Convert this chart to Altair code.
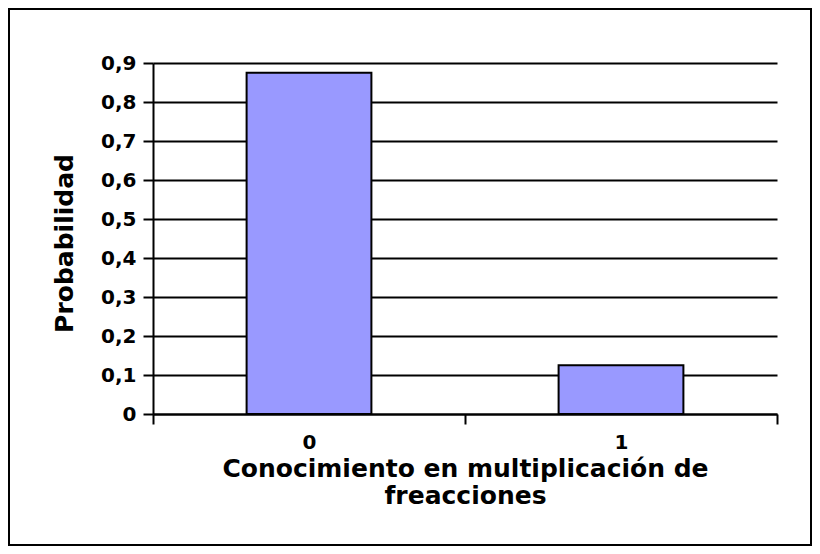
import altair as alt
import pandas as pd

categories = ["0", "1"]
probabilities = [0.875, 0.125]
y_ticks = [0, 0.1, 0.2, 0.3, 0.4, 0.5, 0.6, 0.7, 0.8, 0.9]
x_title = ["Conocimiento en multiplicación de", "freacciones"]
y_title = "Probabilidad"

df = pd.DataFrame({"cat": categories, "p": probabilities})

FONT = "DejaVu Sans"

bars = alt.Chart(df).mark_bar(
    width={"band": 0.4}, color="#9999FF", stroke="black", strokeWidth=2
).encode(
    x=alt.X(
        "cat:N",
        sort=categories,
        scale=alt.Scale(paddingInner=0, paddingOuter=0),
        axis=alt.Axis(
            labelAngle=0,
            tickBand="extent",
            tickSize=10,
            tickWidth=2,
            tickColor="black",
            domainColor="black",
            domainWidth=2,
            labelFont=FONT,
            labelFontSize=20,
            labelFontWeight="bold",
            labelColor="black",
            labelPadding=8,
            grid=False,
            title=x_title,
            titleFont=FONT,
            titleFontSize=25,
            titleFontWeight="bold",
            titleColor="black",
            titleX=312,
            titleY=62,
            titleAlign="center",
            titleBaseline="alphabetic",
            titleLineHeight=27,
        ),
    ),
    y=alt.Y(
        "p:Q",
        scale=alt.Scale(domain=[0, 0.9], nice=False),
        axis=alt.Axis(
            values=y_ticks,
            labelExpr="replace(format(datum.value, '.1~f'), '.', ',')",
            grid=True,
            gridColor="black",
            gridWidth=2,
            gridOpacity=1,
            tickSize=10,
            tickWidth=2,
            tickColor="black",
            domainColor="black",
            domainWidth=2,
            labelFont=FONT,
            labelFontSize=20,
            labelFontWeight="bold",
            labelColor="black",
            labelPadding=7,
            title=y_title,
            titleFont=FONT,
            titleFontSize=25,
            titleFontWeight="bold",
            titleColor="black",
            titleAngle=270,
            titleX=-89,
            titleY=180,
            titleAlign="center",
            titleBaseline="middle",
        ),
    ),
)

frame = alt.Chart(alt.Data(values=[{}])).mark_rect(
    fill=None, stroke="black", strokeWidth=2
).encode(
    x=alt.value(-144), x2=alt.value(658), y=alt.value(-54), y2=alt.value(482)
)

chart = alt.layer(bars, frame).properties(
    width=624,
    height=351,
    autosize=alt.AutoSizeParams(type="none"),
    padding={"left": 145, "top": 55, "right": 35, "bottom": 132},
    background="white",
).configure_view(stroke=None)

chart.save("out.html", embed_options={"renderer": "svg", "actions": False})
